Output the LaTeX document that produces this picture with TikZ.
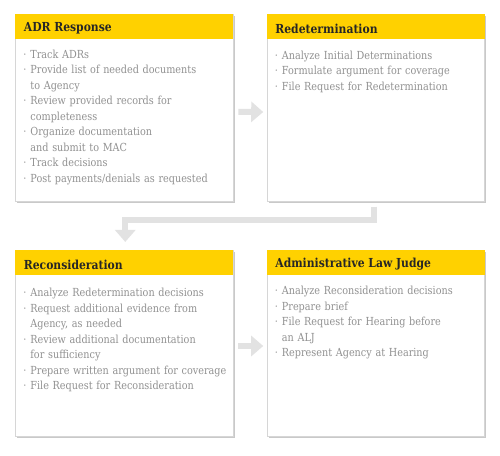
\documentclass[tikz,border=0pt]{standalone}
\usepackage{fontspec}
\setmainfont{DejaVu Serif}[FakeStretch=0.87]
\usetikzlibrary{arrows.meta,shadows,calc}
\definecolor{ylw}{HTML}{FFD100}
\definecolor{bodytxt}{HTML}{919191}
\definecolor{headtxt}{HTML}{262626}
\definecolor{arrgray}{HTML}{E2E2E2}
\definecolor{boxline}{HTML}{D6D6D6}
\newcommand{\itm}[1]{\par\hyphenpenalty=10000 \hangindent=7pt\hangafter=1\noindent\makebox[7pt][l]{·}#1}
\tikzset{
  box/.style={draw=boxline, line width=0.6pt, fill=white, inner sep=0pt,
    minimum width=217.5pt, minimum height=186.5pt,
    drop shadow={shadow xshift=1.5pt, shadow yshift=-1.5pt, fill=black!35, opacity=0.6}},
  head/.style={anchor=west, inner sep=0pt, text=headtxt, font=\fontsize{12.4}{14}\selectfont\bfseries},
  body/.style={anchor=north west, inner sep=0pt, text=bodytxt, text width=225pt, align=left,
    font=\fontsize{11.1}{15.5}\selectfont},
  arr/.style={draw=arrgray, line width=6pt, -{Triangle[width=20pt,length=12pt]}}
}
\begin{document}
\begin{tikzpicture}[x=1pt,y=-1pt]
\useasboundingbox[fill=white] (0,0) rectangle (500,455);
% boxes
\node[box] (b1) at (124.25,107.75) {};
\node[box] (b2) at (375.75,108) {};
\node[box] (b3) at (124.25,343.5) {};
\node[box] (b4) at (375.75,343.5) {};
\foreach \b in {b1,b2,b3,b4}{
  \fill[ylw] (\b.north west) rectangle ([yshift=-25pt]\b.north east);
}
% headings
\node[head] (h1) at ([xshift=8.5pt,yshift=-14.5pt]b1.north west) {ADR Response};
\node[head] (h2) at ([xshift=8.5pt,yshift=-14.5pt]b2.north west) {Redetermination};
\node[head] (h3) at ([xshift=8.5pt,yshift=-14.5pt]b3.north west) {Reconsideration};
\node[head] (h4) at ([xshift=8.5pt,yshift=-14.5pt]b4.north west) {Administrative Law Judge};
% bodies
\node[body] (t1) at ([xshift=8pt,yshift=-28.5pt]b1.north west) {%
\itm{Track ADRs}
\itm{Provide list of needed documents\newline to Agency}
\itm{Review provided records for\newline completeness}
\itm{Organize documentation\newline and submit to MAC}
\itm{Track decisions}
\itm{Post payments/denials as requested}};
\node[body] (t2) at ([xshift=8pt,yshift=-29pt]b2.north west) {%
\itm{Analyze Initial Determinations}
\itm{Formulate argument for coverage}
\itm{File Request for Redetermination}};
\node[body] (t3) at ([xshift=8pt,yshift=-31pt]b3.north west) {%
\itm{Analyze Redetermination decisions}
\itm{Request additional evidence from\newline Agency, as needed}
\itm{Review additional documentation\newline for sufficiency}
\itm{Prepare written argument for coverage}
\itm{File Request for Reconsideration}};
\node[body] (t4) at ([xshift=8pt,yshift=-29pt]b4.north west) {%
\itm{Analyze Reconsideration decisions}
\itm{Prepare brief}
\itm{File Request for Hearing before\newline an ALJ}
\itm{Represent Agency at Hearing}};
% connectors
\draw[arr] ([xshift=5pt,yshift=-4pt]b1.east) -- ([xshift=-3.5pt,yshift=-4pt]b2.west);
\draw[arr] ([xshift=5pt,yshift=-2.5pt]b3.east) -- ([xshift=-3.5pt,yshift=-2.5pt]b4.west);
\draw[arr] ([xshift=-2pt,yshift=-5pt]b2.south) -- ++(0,13.5) -| ([xshift=1pt,yshift=8pt]b3.north);
\end{tikzpicture}
\end{document}
